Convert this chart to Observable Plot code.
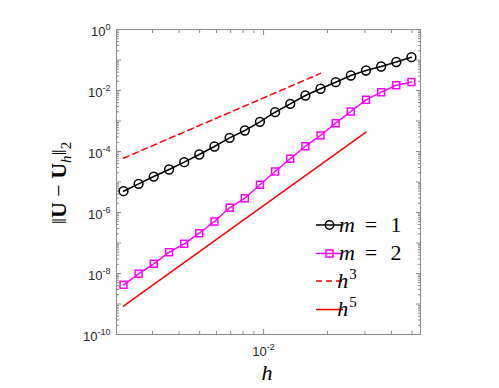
<!DOCTYPE html>
<html><head><meta charset="utf-8">
<script src="https://cdn.jsdelivr.net/npm/d3@7"></script>
<script src="https://cdn.jsdelivr.net/npm/@observablehq/plot@0.6"></script>
<style>html,body{margin:0;padding:0;background:#fff}#chart svg{display:block}</style>
</head><body><div id="chart"></div>
<script>
// ---- data ----
const h = [0.00219,0.00258,0.00304,0.00359,0.00423,0.00498,0.00587,0.00692,0.00816,0.00961,
           0.01133,0.01335,0.01573,0.01854,0.02185,0.02575,0.03035,0.03577,0.04215,0.04968];
const errM1 = [4.99e-6,8.73e-6,1.51e-5,2.57e-5,4.46e-5,7.97e-5,1.46e-4,2.81e-4,4.88e-4,9.41e-4,
               1.94e-3,3.66e-3,6.86e-3,1.14e-2,1.87e-2,3.10e-2,4.53e-2,6.12e-2,8.60e-2,0.1236];
const errM2 = [4.26e-9,9.77e-9,2.08e-8,4.99e-8,9.41e-8,2.09e-7,5.07e-7,1.43e-6,2.94e-6,8.15e-6,
               2.21e-5,5.77e-5,1.49e-4,3.35e-4,8.47e-4,2.05e-3,4.95e-3,8.80e-3,1.49e-2,1.90e-2];
const refH3h = [0.00219, 0.01854];
const refH3e = [6.03e-5, 3.65e-2];
const refH5h = [0.00219, 0.03035];
const refH5e = [8.47e-10, 4.33e-4];
const legendLabels = ["m = 1", "m = 2", "h^3", "h^5"];
const xMajorTicks = [0.01];
const xMinorTicks = [0.003,0.004,0.005,0.006,0.007,0.008,0.009,0.02,0.03,0.04,0.05];
const yMajorTicks = [1e-10,1e-9,1e-8,1e-7,1e-6,1e-5,1e-4,1e-3,1e-2,1e-1,1];
const yLabelTicks = [1e-10,1e-8,1e-6,1e-4,1e-2,1];
const yMinorTicks = [];
for (let d = -10; d < 0; d++) for (let k = 2; k <= 9; k++) yMinorTicks.push(k * Math.pow(10, d));

// ---- tables ----
const m1 = h.map((v, i) => ({h: v, e: errM1[i]}));
const m2 = h.map((v, i) => ({h: v, e: errM2[i]}));
const r3 = refH3h.map((v, i) => ({h: v, e: refH3e[i]}));
const r5 = refH5h.map((v, i) => ({h: v, e: refH5e[i]}));

const axisColor = "#8a8a8a";
const textColor = "#262626";
const expFmt = d => "10^" + Math.round(Math.log10(d));
const blank = () => "";

const tickAxes = [];
for (const a of ["bottom", "top"]) {
  tickAxes.push(Plot.axisX(xMinorTicks, {anchor: a, tickSize: -3, tickFormat: blank, label: null, stroke: axisColor}));
  tickAxes.push(Plot.axisX(xMajorTicks, {anchor: a, tickSize: -5, tickFormat: blank, label: null, stroke: axisColor}));
}
for (const a of ["left", "right"]) {
  tickAxes.push(Plot.axisY(yMinorTicks, {anchor: a, tickSize: -3, tickFormat: blank, label: null, stroke: axisColor}));
  tickAxes.push(Plot.axisY(yMajorTicks, {anchor: a, tickSize: -5, tickFormat: blank, label: null, stroke: axisColor}));
}

const plot = Plot.plot({
  width: 499, height: 388,
  marginLeft: 116, marginRight: 79, marginTop: 29, marginBottom: 54,
  x: {type: "log", domain: [0.00203, 0.0548]},
  y: {type: "log", domain: [1e-10, 1]},
  style: {background: "white", fontFamily: "'Liberation Sans', Arial, sans-serif", fontSize: "13px"},
  marks: [
    ...tickAxes,
    Plot.axisX(xMajorTicks, {anchor: "bottom", tickSize: 0, tickPadding: 12, tickFormat: expFmt, label: null, fontSize: 13, fill: textColor}),
    Plot.axisY(yLabelTicks, {anchor: "left", tickSize: 0, tickPadding: 6, tickFormat: expFmt, label: null, fontSize: 13, fill: textColor, dy: 2}),
    Plot.frame({stroke: axisColor}),
    Plot.line(m1, {x: "h", y: "e", stroke: "black", strokeWidth: 1.5}),
    Plot.dot(m1, {x: "h", y: "e", r: 4.4, stroke: "black", strokeWidth: 1.5, fill: "none"}),
    Plot.line(m2, {x: "h", y: "e", stroke: "#ff00ff", strokeWidth: 1.5}),
    Plot.dot(m2, {x: "h", y: "e", r: 3.9, symbol: "square", stroke: "#ff00ff", strokeWidth: 1.5, fill: "none"}),
    Plot.line(r3, {x: "h", y: "e", stroke: "#ff0000", strokeWidth: 1.5, strokeDasharray: "6,4"}),
    Plot.line(r5, {x: "h", y: "e", stroke: "#ff0000", strokeWidth: 1.5})
  ]
});

const NS = "http://www.w3.org/2000/svg";
function el(parent, name, attrs, text) {
  const e = document.createElementNS(NS, name);
  for (const k in attrs) e.setAttribute(k, attrs[k]);
  if (text != null) e.textContent = text;
  parent.appendChild(e);
  return e;
}
// superscript tick labels
plot.querySelectorAll('[aria-label="x-axis tick label"] text, [aria-label="y-axis tick label"] text').forEach(t => {
  const s = t.textContent;
  if (!s.includes("^")) return;
  const [b, e] = s.split("^");
  t.textContent = "";
  t.setAttribute("font-size", 13);
  t.setAttribute("font-family", "'Liberation Sans', Arial, sans-serif");
  el(t, "tspan", {"font-size": 13}, b);
  el(t, "tspan", {dy: -6, "font-size": 9}, e);
});

const serif = "'Liberation Serif', 'Times New Roman', serif";
// x label
el(plot, "text", {x: 267, y: 380, "text-anchor": "middle", "font-family": serif, "font-style": "italic", "font-size": 22, fill: "#000"}, "h");
// y label ||U - U_h||_2
const yl = el(plot, "text", {transform: "translate(66,183) rotate(-90)", "text-anchor": "middle", "font-family": serif, "font-size": 22, fill: "#000"});
el(yl, "tspan", {}, "\u2016");
el(yl, "tspan", {"font-weight": "bold"}, "U");
el(yl, "tspan", {}, " \u2212 ");
el(yl, "tspan", {"font-weight": "bold"}, "U");
el(yl, "tspan", {"font-style": "italic", "font-size": 15, dy: 5}, "h");
el(yl, "tspan", {dy: -5}, "\u2016");
el(yl, "tspan", {"font-size": 15, dy: 5}, "2");

// legend
const lg = el(plot, "g", {"aria-label": "legend"});
const rows = [
  {y: 225, color: "#000", dash: null, marker: "circle"},
  {y: 253.5, color: "#ff00ff", dash: null, marker: "square"},
  {y: 281, color: "#ff0000", dash: "6,4", marker: null},
  {y: 309.5, color: "#ff0000", dash: null, marker: null}
];
rows.forEach((r, i) => {
  const ln = el(lg, "line", {x1: 316, x2: 343, y1: r.y, y2: r.y, stroke: r.color, "stroke-width": 1.5});
  if (r.dash) ln.setAttribute("stroke-dasharray", r.dash);
  if (r.marker === "circle") el(lg, "circle", {cx: 329.5, cy: r.y, r: 4.2, fill: "none", stroke: r.color, "stroke-width": 1.5});
  if (r.marker === "square") el(lg, "rect", {x: 326, y: r.y - 3.5, width: 7, height: 7, fill: "none", stroke: r.color, "stroke-width": 1.5});
  const lab = legendLabels[i];
  const t = el(lg, "text", {x: 347, y: r.y + 6.5, "font-family": serif, "font-size": 22, fill: "#000"});
  if (lab.startsWith("m")) {
    const parts = lab.split(" ");
    el(t, "tspan", {"font-style": "italic"}, parts[0]);
    el(t, "tspan", {x: 371}, parts[1]);
    el(t, "tspan", {x: 396}, parts[2]);
  } else {
    const [b, e] = lab.split("^");
    el(t, "tspan", {"font-style": "italic"}, b);
    el(t, "tspan", {"font-size": 15, dy: -9, dx: 1}, e);
  }
});

document.getElementById("chart").appendChild(plot);
</script>
</body></html>
